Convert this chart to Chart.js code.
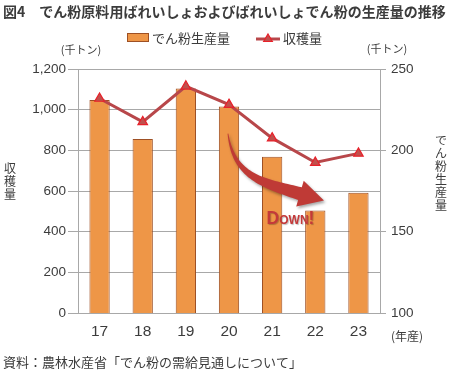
<!DOCTYPE html>
<html><head><meta charset="utf-8">
<script src="https://cdn.jsdelivr.net/npm/chart.js@4/dist/chart.umd.min.js"></script>
<style>html,body{margin:0;padding:0;background:#fff;} #wrap{width:450px;height:370px;position:relative;}</style>
</head><body><div id="wrap"><canvas id="c" width="450" height="370"></canvas></div>
<script>
// ---- data (千トン) ----
const years = ['17','18','19','20','21','22','23'];
const starchProduction = [231, 207, 238, 227, 196, 163, 174];   // でん粉生産量 (right axis)
const harvest = [1055, 940, 1115, 1025, 860, 740, 785];         // 収穫量 (left axis)
const leftTicks = [0, 200, 400, 600, 800, 1000, 1200];
const rightTicks = [100, 150, 200, 250];

const titleText = '図4　でん粉原料用ばれいしょおよびばれいしょでん粉の生産量の推移';
const sourceText = '資料：農林水産省「でん粉の需給見通しについて」';
const leftAxisTitle = '収穫量';
const rightAxisTitle = 'でん粉生産量';
const unitText = '(千トン)';
const xUnitText = '(年産)';
const barLabel = 'でん粉生産量';
const lineLabel = '収穫量';

const JP = '"Noto Sans CJK JP", "Noto Sans", sans-serif';
const NUM = '"Liberation Sans", Arial, sans-serif';
const BAR_FILL = '#EE9647', BAR_EDGE = '#9E5024';
const LINE_COL = '#B8474A', PT_FILL = '#C0504D', PT_EDGE = '#E8212A';
const GRID = '#a8a8a8', TXT = '#3c3c3c';

function tri(ctx, x, y, r) {
  ctx.beginPath();
  for (let k = 0; k < 3; k++) {
    const a = -Math.PI / 2 + k * 2 * Math.PI / 3;
    const px = x + r * Math.cos(a), py = y + r * Math.sin(a);
    k ? ctx.lineTo(px, py) : ctx.moveTo(px, py);
  }
  ctx.closePath();
}

const deco = {
  id: 'deco',
  afterDatasetsDraw(chart) {
    const ctx = chart.ctx, x = chart.scales.x, yl = chart.scales.y;
    const P = (i, v) => [x.getPixelForValue(i), yl.getPixelForValue(v)];
    // curved arrow
    const p0 = P(2.976, 882), p1 = P(3.115, 670), p2 = P(3.765, 641), p3 = P(4.645, 587);
    const bz = (t) => { const u = 1 - t; return [
      u*u*u*p0[0] + 3*u*u*t*p1[0] + 3*u*t*t*p2[0] + t*t*t*p3[0],
      u*u*u*p0[1] + 3*u*u*t*p1[1] + 3*u*t*t*p2[1] + t*t*t*p3[1]]; };
    const dz = (t) => { const u = 1 - t; return [
      3*u*u*(p1[0]-p0[0]) + 6*u*t*(p2[0]-p1[0]) + 3*t*t*(p3[0]-p2[0]),
      3*u*u*(p1[1]-p0[1]) + 6*u*t*(p2[1]-p1[1]) + 3*t*t*(p3[1]-p2[1])]; };
    const left = [], right = [];
    const N = 40;
    for (let k = 0; k <= N; k++) {
      const t = k / N, p = bz(t), d = dz(t), L = Math.hypot(d[0], d[1]);
      const n = [-d[1] / L, d[0] / L], w = 0.4 + 6.2 * t;
      left.push([p[0] + n[0]*w, p[1] + n[1]*w]);
      right.push([p[0] - n[0]*w, p[1] - n[1]*w]);
    }
    const de = dz(1), Le = Math.hypot(de[0], de[1]);
    const dir = [de[0]/Le, de[1]/Le], nrm = [-dir[1], dir[0]];
    const hw = 13.5, hl = 25;
    ctx.save();
    ctx.shadowColor = 'rgba(0,0,0,0.35)'; ctx.shadowBlur = 3; ctx.shadowOffsetX = 1.5; ctx.shadowOffsetY = 2;
    ctx.fillStyle = '#BF3A36';
    ctx.beginPath();
    left.forEach((p, k) => k ? ctx.lineTo(p[0], p[1]) : ctx.moveTo(p[0], p[1]));
    ctx.lineTo(p3[0] + nrm[0]*hw, p3[1] + nrm[1]*hw);
    ctx.lineTo(p3[0] + dir[0]*hl, p3[1] + dir[1]*hl);
    ctx.lineTo(p3[0] - nrm[0]*hw, p3[1] - nrm[1]*hw);
    for (let k = right.length - 1; k >= 0; k--) ctx.lineTo(right[k][0], right[k][1]);
    ctx.closePath();
    ctx.fill();
    // Down! text
    const dp = P(4.425, 460);
    ctx.shadowColor = 'rgba(0,0,0,0.25)'; ctx.shadowBlur = 1; ctx.shadowOffsetX = 1; ctx.shadowOffsetY = 1;
    ctx.fillStyle = '#C4393A';
    ctx.font = 'small-caps bold 17.5px ' + NUM;
    try { ctx.fontVariantCaps = 'small-caps'; } catch (e) {}
    ctx.textAlign = 'center'; ctx.textBaseline = 'middle';
    ctx.fillText('Down!', dp[0], dp[1]);
    ctx.restore();
  },
  afterDraw(chart) {
    const ctx = chart.ctx, ca = chart.chartArea;
    ctx.save();
    ctx.fillStyle = TXT;
    // title, sized to span the width like the reference
    ctx.textAlign = 'left'; ctx.textBaseline = 'middle';
    ctx.font = 'bold 14px ' + JP;
    const tw = ctx.measureText(titleText).width;
    const ts = Math.min(16, 14 * 443 / tw);
    ctx.font = 'bold ' + ts.toFixed(2) + 'px ' + JP;
    ctx.fillText(titleText, 3, 12);
    // legend
    ctx.font = '13px ' + JP;
    ctx.fillStyle = BAR_FILL; ctx.strokeStyle = BAR_EDGE; ctx.lineWidth = 1;
    ctx.fillRect(127.5, 33.5, 21, 8); ctx.strokeRect(127.5, 33.5, 21, 8);
    ctx.fillStyle = TXT;
    ctx.fillText(barLabel, 152, 38);
    ctx.strokeStyle = LINE_COL; ctx.lineWidth = 3;
    ctx.beginPath(); ctx.moveTo(256, 39); ctx.lineTo(280, 39); ctx.stroke();
    tri(ctx, 268, 39, 5); ctx.fillStyle = PT_FILL; ctx.fill(); ctx.lineWidth = 1.2; ctx.strokeStyle = PT_EDGE; ctx.stroke();
    ctx.fillStyle = TXT;
    ctx.fillText(lineLabel, 283, 38);
    // units
    ctx.font = '11px ' + JP;
    ctx.textAlign = 'center';
    ctx.fillText(unitText, ca.left + 3, 50);
    ctx.fillText(unitText, ca.right + 7, 49);
    ctx.font = '12px ' + JP;
    ctx.fillText(xUnitText, ca.right + 27, 336);
    // vertical axis titles
    ctx.font = '12px ' + JP;
    [...leftAxisTitle].forEach((ch, k) => ctx.fillText(ch, 10, 168 + k * 13));
    [...rightAxisTitle].forEach((ch, k) => ctx.fillText(ch, 441, 140 + k * 13));
    // source
    ctx.textAlign = 'left';
    ctx.font = '13px ' + JP;
    ctx.fillText(sourceText, 3, 362);
    ctx.restore();
  }
};

new Chart(document.getElementById('c'), {
  data: {
    labels: years,
    datasets: [
      { type: 'line', label: lineLabel, data: harvest, yAxisID: 'y', order: 0,
        borderColor: LINE_COL, borderWidth: 3, tension: 0,
        pointStyle: 'triangle', pointRadius: 5.5, pointBackgroundColor: PT_FILL,
        pointBorderColor: PT_EDGE, pointBorderWidth: 1.2 },
      { type: 'bar', label: barLabel, data: starchProduction, yAxisID: 'y1', order: 1,
        backgroundColor: BAR_FILL, borderColor: BAR_EDGE, borderWidth: 1,
        barPercentage: 0.47, categoryPercentage: 1 }
    ]
  },
  options: {
    responsive: false, animation: false,
    layout: { padding: { top: 69, left: 0, right: 0, bottom: 0 } },
    plugins: { legend: { display: false }, title: { display: false }, tooltip: { enabled: false } },
    scales: {
      x: {
        offset: true,
        grid: { display: false, drawTicks: false },
        border: { display: false },
        ticks: { color: TXT, font: { family: NUM, size: 15.5 }, padding: 9 },
        afterFit(s) { s.height = 57; }
      },
      y: {
        position: 'left', min: 0, max: 1200,
        afterBuildTicks(s) { s.ticks = leftTicks.map(v => ({ value: v })); },
        grid: { color: GRID, lineWidth: 1, tickLength: 10 },
        border: { color: GRID, width: 1 },
        ticks: { color: TXT, font: { family: NUM, size: 13.5 }, padding: 2,
          callback: v => v.toLocaleString('en-US') },
        afterFit(s) { s.width = 78; }
      },
      y1: {
        position: 'right', min: 100, max: 250,
        afterBuildTicks(s) { s.ticks = rightTicks.map(v => ({ value: v })); },
        grid: { drawOnChartArea: false, color: GRID, tickLength: 6 },
        border: { color: GRID, width: 1 },
        ticks: { color: TXT, font: { family: NUM, size: 13.5 }, padding: 5 },
        afterFit(s) { s.width = 70; }
      }
    }
  },
  plugins: [deco]
});
</script>
</body></html>
